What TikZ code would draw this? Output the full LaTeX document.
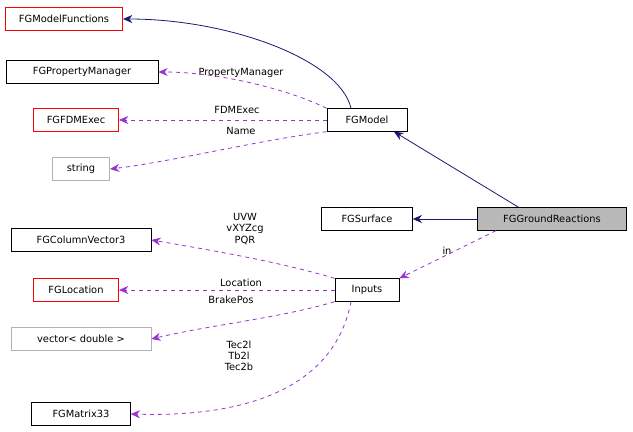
\documentclass[tikz,border=0pt]{standalone}
\usepackage{fontspec}
\setmainfont{DejaVu Sans}
\usetikzlibrary{arrows.meta}
\definecolor{edgeblue}{RGB}{25,25,112}
\definecolor{edgepurple}{RGB}{154,50,205}

\begin{document}
\begin{tikzpicture}[x=0.75pt, y=-0.75pt, font=\fontsize{7.4}{8.4}\selectfont,
    cls/.style = {draw, fill=white, minimum height=17pt, inner xsep=4pt, line width=0.5pt},
    redcls/.style = {cls, draw=red},
    graycls/.style = {cls, draw=gray!60},
    lbl/.style = {inner sep=0pt, align=center},
    inherit/.style = {-{Stealth[length=7pt,width=6pt]}, edgeblue, line width=0.6pt},
    uses/.style = {-{Stealth[length=7pt,width=6pt]}, edgepurple, dashed, line width=0.6pt}]
    \useasboundingbox (0,0) rectangle (633,432);

    \node at (64,19) [redcls, minimum width=88pt] (mf) {FGModelFunctions};
    \node at (82,72) [cls, minimum width=114pt] (pm) {FGPropertyManager};
    \node at (76,120) [redcls, minimum width=64pt] (fdm) {FGFDMExec};
    \node at (81,169) [graycls, minimum width=43pt] (str) {string};
    \node at (367,120) [cls, minimum width=60pt] (model) {FGModel};
    \node at (367,219) [cls, minimum width=68pt] (surf) {FGSurface};
    \node at (552,219) [cls, fill=gray!55, minimum width=112pt] (gr) {FGGroundReactions};
    \node at (81,240) [cls, minimum width=105pt] (cv3) {FGColumnVector3};
    \node at (367,290) [cls, minimum width=48pt] (in) {Inputs};
    \node at (76,290) [redcls, minimum width=64pt] (loc) {FGLocation};
    \node at (81,339) [graycls, minimum width=105pt] (vec) {vector< double >};
    \node at (81,414) [cls, minimum width=74pt] (m33) {FGMatrix33};

    %labels
    \node at (241,73) [lbl] (lpm) {PropertyManager};
    \node at (237,110) [lbl] (lfdm) {FDMExec};
    \node at (241,131) [lbl] (lname) {Name};
    \node at (447,251) [lbl] (lin) {in};
    \node at (245,229) [lbl] (lcv3) {UVW\\vXYZcg\\PQR};
    \node at (241,283) [lbl] (lloc) {Location};
    \node at (231,300) [lbl] (lvec) {BrakePos};
    \node at (239,356) [lbl] (lm33) {Tec2l\\Tb2l\\Tec2b};

    %inheritance
    \draw[inherit] ([xshift=-12]model.north) .. controls (340,60) and (230,19) .. (mf.east);
    \draw[inherit] ([xshift=-25]gr.north) -- ([xshift=-10]model.south east);
    \draw[inherit] (gr.west) -- (surf.east);

    %members of FGModel
    \draw[uses] (model.north west) .. controls (290,90) and (220,72) .. (pm.east);
    \draw[uses] (model.west) -- (fdm.east);
    \draw[uses] (model.south west) .. controls (260,140) and (170,162) .. (str.east);

    %members of FGGroundReactions
    \draw[uses] ([xshift=-42]gr.south) -- (in.north east);

    %members of Inputs
    \draw[uses] (in.north west) .. controls (280,262) and (210,250) .. (cv3.east);
    \draw[uses] (in.west) -- (loc.east);
    \draw[uses] (in.south west) .. controls (280,318) and (210,325) .. (vec.east);
    \draw[uses] ([xshift=-12]in.south) .. controls (330,410) and (200,416) .. (m33.east);
\end{tikzpicture}
\end{document}
